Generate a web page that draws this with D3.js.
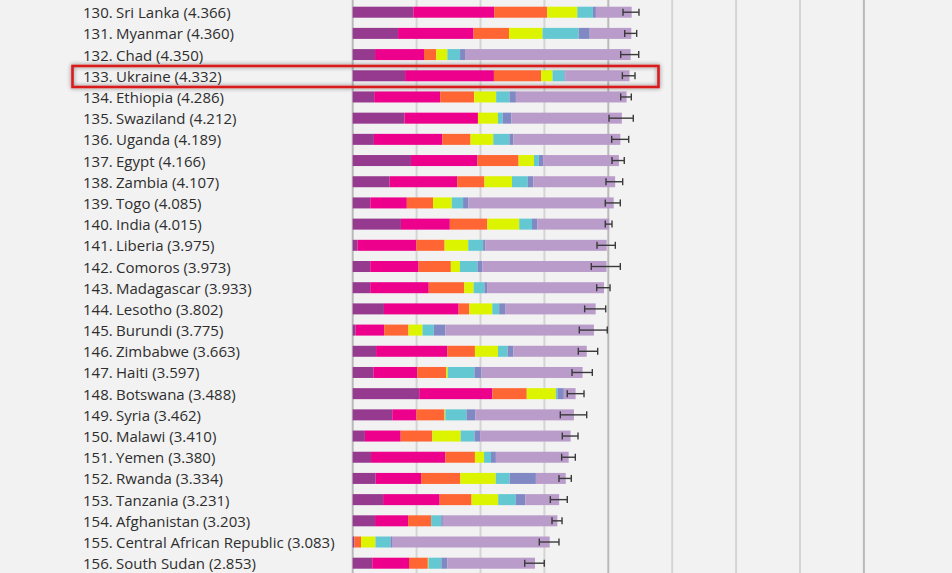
<!DOCTYPE html>
<html>
<head>
<meta charset="utf-8">
<script src="https://cdn.jsdelivr.net/npm/d3@7"></script>
<style>
  html, body { margin: 0; padding: 0; background: #f2f2f2; }
  svg { display: block; }
</style>
</head>
<body>
<svg id="chart" width="952" height="573"></svg>
<script>
const ranks = [130,131,132,133,134,135,136,137,138,139,140,141,142,143,144,145,146,147,148,149,150,151,152,153,154,155,156];
const countries = ["Sri Lanka","Myanmar","Chad","Ukraine","Ethiopia","Swaziland","Uganda","Egypt","Zambia","Togo","India","Liberia","Comoros","Madagascar","Lesotho","Burundi","Zimbabwe","Haiti","Botswana","Syria","Malawi","Yemen","Rwanda","Tanzania","Afghanistan","Central African Republic","South Sudan"];
const scores = [4.366,4.360,4.350,4.332,4.286,4.212,4.189,4.166,4.107,4.085,4.015,3.975,3.973,3.933,3.802,3.775,3.663,3.597,3.488,3.462,3.410,3.380,3.334,3.231,3.203,3.083,2.853];
const gdp        = [0.949,0.710,0.350,0.820,0.336,0.811,0.332,0.913,0.578,0.275,0.755,0.073,0.274,0.274,0.489,0.046,0.366,0.323,1.041,0.619,0.191,0.287,0.359,0.476,0.350,0.026,0.306];
const social     = [1.265,1.181,0.766,1.390,1.033,1.149,1.069,1.039,1.058,0.572,0.765,0.922,0.757,0.916,1.169,0.447,1.114,0.688,1.145,0.378,0.560,1.163,0.711,0.885,0.517,0.000,0.575];
const health     = [0.831,0.555,0.192,0.739,0.532,0.000,0.443,0.644,0.426,0.410,0.588,0.443,0.505,0.555,0.168,0.380,0.433,0.449,0.538,0.440,0.495,0.463,0.614,0.499,0.361,0.105,0.295];
const freedom    = [0.470,0.525,0.174,0.178,0.344,0.313,0.356,0.241,0.431,0.293,0.498,0.370,0.142,0.148,0.359,0.220,0.361,0.026,0.455,0.013,0.443,0.143,0.555,0.417,0.000,0.225,0.010];
const generosity = [0.244,0.566,0.198,0.187,0.209,0.074,0.252,0.076,0.247,0.177,0.200,0.233,0.275,0.169,0.107,0.176,0.151,0.419,0.025,0.331,0.218,0.108,0.217,0.276,0.158,0.235,0.202];
const corruption = [0.047,0.172,0.078,0.010,0.100,0.135,0.060,0.067,0.087,0.085,0.085,0.033,0.078,0.041,0.093,0.180,0.089,0.110,0.100,0.141,0.089,0.077,0.411,0.147,0.025,0.035,0.091];
const dystopia   = [0.560,0.651,2.592,1.008,1.732,1.730,1.677,1.186,1.280,2.273,1.124,1.901,1.942,1.830,1.417,2.326,1.149,1.582,0.184,1.540,1.414,1.139,0.467,0.531,1.792,2.457,1.374];
const ciLow  = [4.230,4.257,4.194,4.220,4.194,4.011,4.053,4.058,3.964,3.953,3.953,3.823,3.734,3.818,3.630,3.546,3.531,3.432,3.358,3.249,3.280,3.270,3.228,3.093,3.119,2.920,2.692];
const ciHigh = [4.480,4.444,4.476,4.418,4.360,4.391,4.319,4.250,4.225,4.188,4.058,4.110,4.188,4.027,3.959,3.984,3.834,3.750,3.620,3.662,3.526,3.484,3.421,3.358,3.276,3.228,2.998];
const gridTicks = [0,1,2,3,4,5,6,7,8];
const highlighted = "Ukraine";

const seriesKeys = ["gdp","social","health","freedom","generosity","corruption","dystopia"];
const seriesColors = ["#953a8e","#ec008c","#ff6633","#dcf400","#63c8d1","#8189c5","#ba9ccb"];
const seriesArrays = [gdp, social, health, freedom, generosity, corruption, dystopia];

const rows = countries.map((c, i) => {
  const r = { country: c, rank: ranks[i], score: scores[i], lo: ciLow[i], hi: ciHigh[i] };
  seriesKeys.forEach((k, j) => r[k] = seriesArrays[j][i]);
  return r;
});

const svg = d3.select("#chart");
const W = 952, H = 573;

const x = d3.scaleLinear().domain([0, 8]).range([352.7, 863.9]);
const y = d3.scalePoint().domain(countries).range([12.2, 563.2]);
const barH = 11;

svg.append("rect").attr("width", W).attr("height", H).attr("fill", "#f2f2f2");

// defs
const defs = svg.append("defs");
const f = defs.append("filter").attr("id", "shadow").attr("x", "-10%").attr("y", "-100%").attr("width", "120%").attr("height", "300%");
f.append("feGaussianBlur").attr("in", "SourceAlpha").attr("stdDeviation", 2).attr("result", "blur");
f.append("feFlood").attr("flood-color", "#000").attr("flood-opacity", 0.5);
f.append("feComposite").attr("in2", "blur").attr("operator", "in").attr("result", "sh");
const m = f.append("feMerge");
m.append("feMergeNode").attr("in", "sh");
m.append("feMergeNode").attr("in", "SourceGraphic");

// gridlines
svg.append("g").selectAll("line").data(gridTicks).join("line")
  .attr("x1", d => x(d)).attr("x2", d => x(d))
  .attr("y1", 0).attr("y2", H)
  .attr("stroke", d => (d % 4 === 0) ? "#b9b9b9" : "#d4d4d4")
  .attr("stroke-width", 2);

// stacked bars
const stack = d3.stack().keys(seriesKeys);
const stacked = stack(rows);
svg.append("g").selectAll("g").data(stacked).join("g")
  .attr("fill", (d, i) => seriesColors[i])
  .selectAll("rect").data(d => d).join("rect")
  .attr("x", d => x(d[0]))
  .attr("width", d => Math.max(0, x(d[1]) - x(d[0])))
  .attr("y", d => y(d.data.country) - barH / 2)
  .attr("height", barH);

// error bars
const eb = svg.append("g").attr("stroke", "#3a3a3a").attr("stroke-width", 1.4);
eb.selectAll("line.h").data(rows).join("line").attr("class", "h")
  .attr("x1", d => x(d.lo)).attr("x2", d => x(d.hi))
  .attr("y1", d => y(d.country)).attr("y2", d => y(d.country));
eb.selectAll("line.l").data(rows).join("line").attr("class", "l")
  .attr("x1", d => x(d.lo)).attr("x2", d => x(d.lo))
  .attr("y1", d => y(d.country) - 3.5).attr("y2", d => y(d.country) + 3.5);
eb.selectAll("line.r").data(rows).join("line").attr("class", "r")
  .attr("x1", d => x(d.hi)).attr("x2", d => x(d.hi))
  .attr("y1", d => y(d.country) - 3.5).attr("y2", d => y(d.country) + 3.5);

// labels
const lab = svg.append("g").attr("font-family", "'Open Sans', 'DejaVu Sans', sans-serif")
  .attr("font-size", "15px").attr("fill", "#2e2e2e");
lab.selectAll("text.rank").data(rows).join("text").attr("class", "rank")
  .attr("x", 83).attr("y", d => y(d.country) + 6)
  .text(d => d.rank + ".");
lab.selectAll("text.name").data(rows).join("text").attr("class", "name")
  .attr("x", 116).attr("y", d => y(d.country) + 6)
  .text(d => d.country + " (" + d.score.toFixed(3) + ")");

// highlight box
const hy = y(highlighted);
svg.append("rect")
  .attr("x", 72.5).attr("y", hy - 9.8)
  .attr("width", 586).attr("height", 21)
  .attr("fill", "none")
  .attr("stroke", "#d81a1f").attr("stroke-width", 2.6)
  .attr("filter", "url(#shadow)");
</script>
</body>
</html>
